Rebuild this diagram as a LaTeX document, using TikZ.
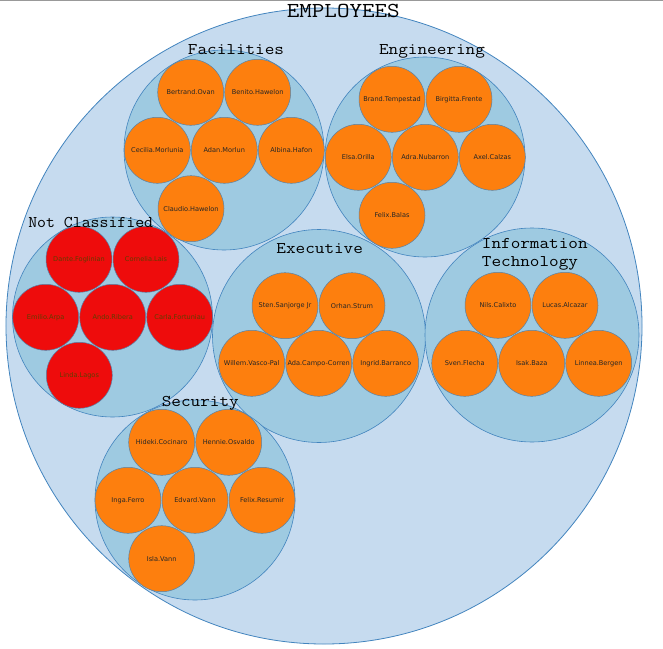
\documentclass[tikz,border=0pt]{standalone}
\usepackage{fontspec}
\setmainfont{DejaVu Sans}
\usepackage{tikz}
\usetikzlibrary{positioning}
\definecolor{rootcolor}{RGB}{198,219,239}
\definecolor{groupcolor}{RGB}{158,202,225}
\definecolor{edgecolor}{RGB}{66,132,190}
\definecolor{personcolor}{RGB}{253,127,14}
\definecolor{unclasscolor}{RGB}{238,12,12}
\definecolor{unclasstext}{RGB}{95,62,0}
\newcommand\titletext[2][1.143]{\scalebox{#1}[1]{#2}}

\begin{document}
\begin{tikzpicture}[
  x=1bp, y=-1bp,
  node distance=0.5bp,
  root/.style={circle, draw=edgecolor, line width=0.8bp, fill=rootcolor, minimum size=636bp, inner sep=0pt},
  group/.style={circle, draw=edgecolor, line width=0.6bp, fill=groupcolor, minimum size=#1, inner sep=0pt},
  person/.style={circle, draw=edgecolor!70!gray, line width=0.5bp, fill=personcolor, minimum size=66bp, inner sep=0pt,
    font=\fontsize{6.6}{7}\selectfont, text=black!85},
  unclass/.style={person, fill=unclasscolor, text=unclasstext},
  title/.style={font=\ttfamily\fontsize{16.4}{18}\selectfont, inner sep=0pt, anchor=base}
]
  \useasboundingbox (0,0) rectangle (663,649);
  \draw[gray!80, line width=1.5bp] (0,0.75) -- (663,0.75);

  % Root and departments
  \node[root] (employees) at (324,326) {};
  \node[group=200bp] (facilities) at (224,150) {};
  \node[group=200bp] (engineering) at (425,157) {};
  \node[group=200bp] (notclassified) at (112.5,317) {};
  \node[group=213bp] (executive) at (319,336) {};
  \node[group=214bp] (infotech) at (532,335) {};
  \node[group=200bp] (security) at (195,500) {};

  % Facilities
  \node[person] (bertrand) at (190.7,92.3) {Bertrand.Ovan};
  \node[person, right=of bertrand] (benito) {Benito.Hawelon};
  \node[person] (cecilia) at (157.3,150.3) {Cecilia.Morlunia};
  \node[person, right=of cecilia] (adan) {Adan.Morlun};
  \node[person, right=of adan] (albina) {Albina.Hafon};
  \node[person] (claudio) at (191,208.7) {Claudio.Hawelon};

  % Engineering
  \node[person] (brand) at (392,99.3) {Brand.Tempestad};
  \node[person, right=of brand] (birgitta) {Birgitta.Frente};
  \node[person] (elsa) at (358.3,157.3) {Elsa.Orilla};
  \node[person, right=of elsa] (adra) {Adra.Nubarron};
  \node[person, right=of adra] (axel) {Axel.Calzas};
  \node[person] (felixb) at (392,215.3) {Felix.Balas};

  % Not Classified
  \node[unclass] (dante) at (79,259.3) {Dante.Foglinian};
  \node[unclass, right=of dante] (cornelia) {Cornelia.Lais};
  \node[unclass] (emilio) at (45.7,317.3) {Emilio.Arpa};
  \node[unclass, right=of emilio] (ando) {Ando.Ribera};
  \node[unclass, right=of ando] (carla) {Carla.Fortuniau};
  \node[unclass] (linda) at (79.3,375.3) {Linda.Lagos};

  % Executive
  \node[person] (sten) at (285,305.7) {Sten.Sanjorge Jr};
  \node[person, right=of sten] (orhan) {Orhan.Strum};
  \node[person] (willem) at (251.7,363.3) {Willem.Vasco-Pal};
  \node[person, right=of willem] (ada) {Ada.Campo-Corren};
  \node[person, right=of ada] (ingrid) {Ingrid.Barranco};

  % Information Technology
  \node[person] (nils) at (498,305.3) {Nils.Calixto};
  \node[person, right=of nils] (lucas) {Lucas.Alcazar};
  \node[person] (sven) at (464.7,363.3) {Sven.Flecha};
  \node[person, right=of sven] (isak) {Isak.Baza};
  \node[person, right=of isak] (linnea) {Linnea.Bergen};

  % Security
  \node[person] (hideki) at (161.7,442.3) {Hideki.Cocinaro};
  \node[person, right=of hideki] (hennie) {Hennie.Osvaldo};
  \node[person] (inga) at (128,500.3) {Inga.Ferro};
  \node[person, right=of inga] (edvard) {Edvard.Vann};
  \node[person, right=of edvard] (felixr) {Felix.Resumir};
  \node[person] (isla) at (161.7,558.7) {Isla.Vann};

  % Titles
  \node[title, font=\ttfamily\fontsize{21.4}{22}\selectfont] (employeestitle) at (343.3,17.3) {\titletext{EMPLOYEES}};
  \node[title] (facilitiestitle) at (236,55) {\titletext{Facilities}};
  \node[title] (engineeringtitle) at (432,55) {\titletext{Engineering}};
  \node[title] (notclassifiedtitle) at (90.7,227.7) {\titletext[1.06]{Not Classified}};
  \node[title] (executivetitle) at (319.7,253.3) {\titletext{Executive}};
  \node[title, anchor=north west, align=left] (infotechtitle) at (481.7,237.8) {\titletext{Information}\\\titletext{Technology}};
  \node[title] (securitytitle) at (200.3,406.7) {\titletext{Security}};
\end{tikzpicture}
\end{document}
